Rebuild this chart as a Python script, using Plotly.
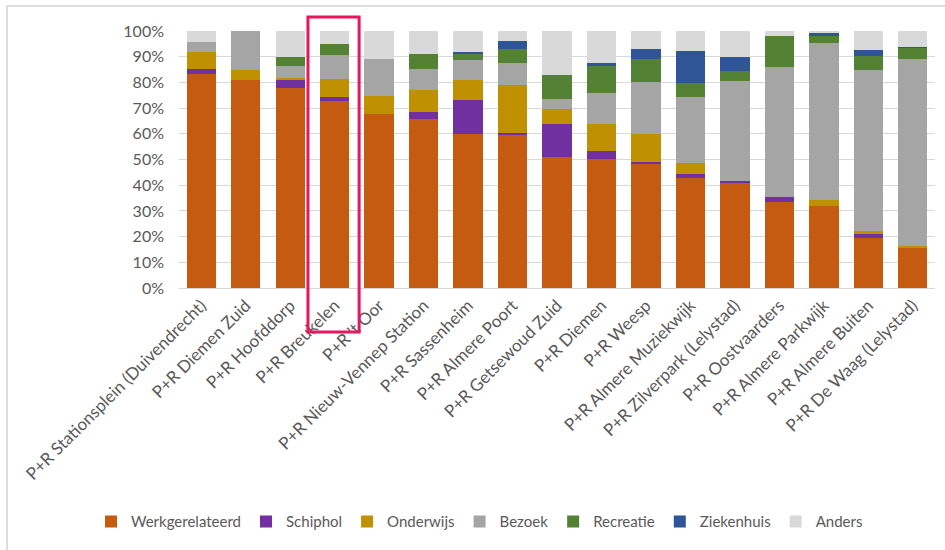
import plotly.graph_objects as go

# P+R locaties
locaties = [
    "P+R Stationsplein (Duivendrecht)", "P+R Diemen Zuid", "P+R Hoofddorp",
    "P+R Breukelen", "P+R 't Oor", "P+R Nieuw-Vennep Station", "P+R Sassenheim",
    "P+R Almere Poort", "P+R Getsewoud Zuid", "P+R Diemen", "P+R Weesp",
    "P+R Almere Muziekwijk", "P+R Zilverpark (Lelystad)", "P+R Oostvaarders",
    "P+R Almere Parkwijk", "P+R Almere Buiten", "P+R De Waag (Lelystad)",
]

# Reismotief per locatie (aandeel in %)
werkgerelateerd = [83.3, 80.9, 77.9, 72.7, 67.8, 65.6, 59.9, 59.4, 50.8, 50.3, 48.6, 42.9, 41.0, 33.6, 31.9, 19.6, 15.6]
schiphol        = [1.9, 0.0, 3.4, 1.8, 0.0, 2.7, 13.2, 1.1, 13.2, 2.9, 0.6, 1.6, 0.8, 1.9, 0.0, 1.6, 0.0]
onderwijs       = [6.5, 3.9, 0.6, 6.9, 7.0, 8.6, 7.8, 18.3, 5.5, 10.7, 10.9, 4.2, 0.0, 0.0, 2.4, 1.1, 0.8]
bezoek          = [3.9, 15.2, 4.5, 9.4, 14.4, 8.4, 7.9, 8.9, 4.0, 11.8, 20.2, 25.7, 38.8, 50.3, 61.2, 62.5, 72.6]
recreatie       = [0.0, 0.0, 3.3, 4.3, 0.0, 5.9, 2.4, 5.4, 9.4, 10.7, 8.8, 5.2, 3.8, 12.3, 2.7, 5.5, 4.5]
ziekenhuis      = [0.0, 0.0, 0.0, 0.0, 0.0, 0.0, 0.5, 3.0, 0.0, 1.0, 3.8, 12.6, 5.6, 0.0, 1.2, 2.3, 0.4]
anders          = [4.4, 0.0, 10.3, 4.9, 10.8, 8.8, 8.3, 3.9, 17.1, 12.6, 7.1, 7.8, 10.0, 1.9, 0.6, 7.4, 6.1]

reeksen = [
    ("Werkgerelateerd", werkgerelateerd, "#C55A11"),
    ("Schiphol", schiphol, "#7030A0"),
    ("Onderwijs", onderwijs, "#BF9000"),
    ("Bezoek", bezoek, "#A5A5A5"),
    ("Recreatie", recreatie, "#548235"),
    ("Ziekenhuis", ziekenhuis, "#2F5597"),
    ("Anders", anders, "#D9D9D9"),
]

fig = go.Figure()
for naam, waarden, kleur in reeksen:
    fig.add_trace(go.Bar(
        name=naam, x=locaties, y=[v / 100 for v in waarden],
        marker=dict(color=kleur, line=dict(width=0)),
    ))

FONT = "Lato"
GRIJS = "#595959"

fig.update_layout(
    width=945, height=550,
    barmode="stack", bargap=0.34,
    paper_bgcolor="white", plot_bgcolor="white",
    margin=dict(l=179, r=10, t=31, b=262, autoexpand=False),
    font=dict(family=FONT, size=16, color=GRIJS),
    showlegend=True,
    legend=dict(
        orientation="h", x=(91 - 179) / 756, xanchor="left", y=-0.91, yanchor="middle",
        font=dict(family=FONT, size=15, color=GRIJS),
        itemwidth=30, tracegroupgap=0, traceorder="normal",
    ),
    xaxis=dict(
        tickangle=-45, tickfont=dict(family=FONT, size=17, color=GRIJS),
        showgrid=False, showline=True, linecolor="#D9D9D9", linewidth=1,
        ticks="", fixedrange=True,
    ),
    yaxis=dict(
        range=[0, 1], tickformat=".0%", dtick=0.1,
        tickfont=dict(family=FONT, size=16, color=GRIJS),
        showgrid=True, gridcolor="#D9D9D9", gridwidth=1,
        zeroline=False, showline=False, ticks="", ticklabelstandoff=14,
    ),
)

# Kader om de grafiek (links en boven)
fig.add_shape(type="line", xref="paper", yref="paper",
              x0=(7 - 179) / 756, x1=(7 - 179) / 756, y0=(288 - 6) / 257, y1=(288 - 560) / 257,
              line=dict(color="#D0D0D0", width=1.5))
fig.add_shape(type="line", xref="paper", yref="paper",
              x0=(7 - 179) / 756, x1=(960 - 179) / 756, y0=(288 - 6) / 257, y1=(288 - 6) / 257,
              line=dict(color="#D0D0D0", width=1.5))

# Markering van P+R Breukelen
fig.add_shape(type="rect", xref="x", yref="paper",
              x0=2.40, x1=3.55, y0=(288 - 332) / 257, y1=(288 - 17) / 257,
              line=dict(color="#E8175D", width=3), fillcolor="rgba(0,0,0,0)")

fig.write_html("out.html")
